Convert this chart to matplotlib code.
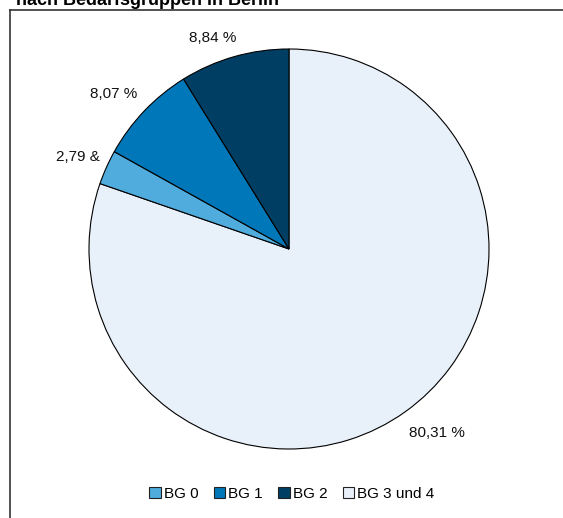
import matplotlib
matplotlib.use("Agg")
import matplotlib.pyplot as plt
from matplotlib.lines import Line2D
from matplotlib.patches import Patch

plt.rcParams['font.family'] = ['Liberation Sans', 'DejaVu Sans']

categories = ["BG 3 und 4", "BG 0", "BG 1", "BG 2"]
values = [80.31, 2.79, 8.07, 8.84]
labels = ["80,31 %", "2,79 &", "8,07 %", "8,84 %"]
colors = ["#E8F0FA", "#4FACDD", "#0077B8", "#003F63"]
legend_order = ["BG 0", "BG 1", "BG 2", "BG 3 und 4"]

W, H = 563, 518
fig = plt.figure(figsize=(W / 100, H / 100), dpi=100)

cx, cy, r = 289, 249, 200
ax = fig.add_axes([(cx - r) / W, (H - cy - r) / H, 2 * r / W, 2 * r / H])
wedges, texts = ax.pie(values, labels=labels, colors=colors, startangle=90,
                       counterclock=False, labeldistance=1.13,
                       wedgeprops=dict(edgecolor="black", linewidth=0.8),
                       textprops=dict(fontsize=11, color="#111111"))
# label placement (layout tweak)
label_pos = [(0.74, -0.92), (-1.055, 0.46), (-0.875, 0.775), (-0.38, 1.055)]
for t, p in zip(texts, label_pos):
    t.set_position(p)
    t.set_ha("center")
    t.set_va("center")
ax.set_xlim(-1, 1)
ax.set_ylim(-1, 1)
ax.set_aspect("auto")
ax.axis("off")

# frame lines (left and top)
fig.add_artist(Line2D([10 / W, 10 / W], [0, 1 - 10 / H], color="#333333", lw=1.2, transform=fig.transFigure))
fig.add_artist(Line2D([10 / W, 1], [1 - 10 / H, 1 - 10 / H], color="#333333", lw=1.2, transform=fig.transFigure))

fig.text(16 / W, 1 - 0.5 / H, "nach Bedarfsgruppen in Berlin", fontsize=13, fontweight="bold",
         ha="left", va="center")

cmap = dict(zip(categories, colors))
handles = [Patch(facecolor=cmap[c], edgecolor="#222222", linewidth=0.8) for c in legend_order]
fig.legend(handles, legend_order, loc="center", bbox_to_anchor=(292 / W, 1 - 494 / H), ncol=4,
           frameon=False, fontsize=11, handlelength=0.75, handleheight=0.75, handletextpad=0.2,
           columnspacing=1.0)

fig.savefig("out.png", dpi=100)
